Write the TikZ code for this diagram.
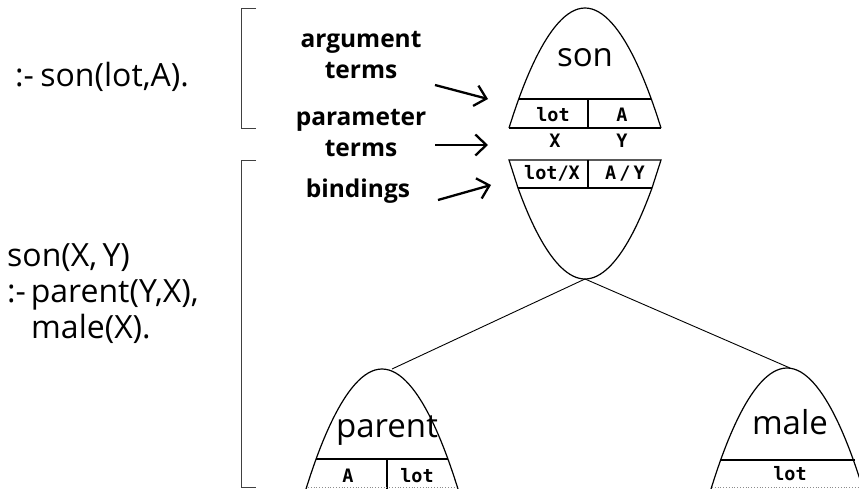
\documentclass[tikz,border=0pt]{standalone}
\usepackage{fontspec}
\setmainfont{Open Sans}
\newfontfamily\monof{DejaVu Sans Mono}
\usetikzlibrary{arrows.meta}
\begin{document}
\begin{tikzpicture}[x=1pt,y=-1pt,
  outline/.style={line width=1.2pt},
  thin/.style={line width=0.9pt},
  big/.style={font=\fontsize{32}{35}\selectfont, inner sep=0pt, anchor=base west},
  lbl/.style={font=\fontsize{24.5}{28}\selectfont\bfseries, inner sep=0pt, anchor=base},
  cell/.style={font=\monof\bfseries\fontsize{18.5}{20}\selectfont, inner sep=0pt, anchor=base},
  pname/.style={font=\fontsize{33}{36}\selectfont, inner sep=0pt, anchor=base},
  arr/.style={line width=2.3pt, -{Straight Barb[length=11pt,width=21pt,line width=2.3pt]}},
  brk/.style={line width=0.8pt, black!75},
  dots/.style={line width=0.8pt, black!45, dotted}]
\useasboundingbox (0,0) rectangle (859,489);

% left program text
\node[big] (query) at (15,87) {:-\hspace{0.2em}son(lot,A).};
\node[big] (head) at (7,266) {son(X,\,Y)};
\node[big] (body1) at (7,302) {:-\hspace{0.15em}parent(Y,X),};
\node[big] (body2) at (31,338) {male(X).};

% brackets
\draw[brk] (256,8) -- (241,8) -- (241,128) -- (256,128);
\draw[brk] (256,160) -- (241,160) -- (241,487) -- (256,487);

% labels
\node[lbl] (arg1) at (361,48) {argument};
\node[lbl] (arg2) at (361,79) {terms};
\node[lbl] (par1) at (361,126) {parameter};
\node[lbl] (par2) at (361,157) {terms};
\node[lbl] (bind) at (358,198) {bindings};

\coordinate (a1s) at (435,85);  \coordinate (a1e) at (488,99);
\coordinate (a2s) at (435,145); \coordinate (a2e) at (488,145);
\coordinate (a3s) at (438,200); \coordinate (a3e) at (491,185);
\draw[arr] (a1s) -- (a1e);
\draw[arr] (a2s) -- (a2e);
\draw[arr] (a3s) -- (a3e);

% son: top dome with argument terms
\draw[outline] (509,128) parabola bend (585,8) (661,128);
\draw[outline] (519,99) -- (651,99);
\draw[outline] (509,128) -- (661,128);
\draw[outline] (588,99) -- (588,128);
\node[pname] (sonname) at (585,67) {son};
\node[cell] (c1) at (553,122) {lot};
\node[cell] (c2) at (622,122) {A};
\node[cell] (c3) at (555,148) {X};
\node[cell] (c4) at (622,148) {Y};

% son: bindings and bowl
\draw[outline] (518,188) -- (509,160) -- (661,160) -- (652,188);
\draw[outline] (518,188) -- (652,188);
\draw[outline] (588,160) -- (588,188);
\draw[outline] (518,188) parabola bend (585,279) (652,188);
\node[cell] (b1) at (552,180) {lot/X};
\node[cell] (b2) at (625,180) {A\,/\,Y};

% connectors
\coordinate (sonbot) at (585,279);
\coordinate (partop) at (392,369);
\coordinate (maletop) at (790,368);
\draw[thin] (sonbot) -- (partop);
\draw[thin] (sonbot) -- (maletop);

% parent
\draw[outline] (306,489) parabola bend (382,369) (458,489);
\draw[outline] (316,459) -- (448,459);
\draw[outline] (387,459) -- (387,489);
\draw[dots] (308,487) -- (456,487);
\node[pname] (parname) at (387,437) {parent};
\node[cell] (p1) at (348,482) {A};
\node[cell] (p2) at (417,482) {lot};

% male
\draw[outline] (711,489) parabola bend (787,368) (863,489);
\draw[outline] (720,460) -- (855,460);
\draw[dots] (712,487) -- (858,487);
\node[pname] (malename) at (790,434) {male};
\node[cell] (m1) at (790,480) {lot};
\end{tikzpicture}
\end{document}
